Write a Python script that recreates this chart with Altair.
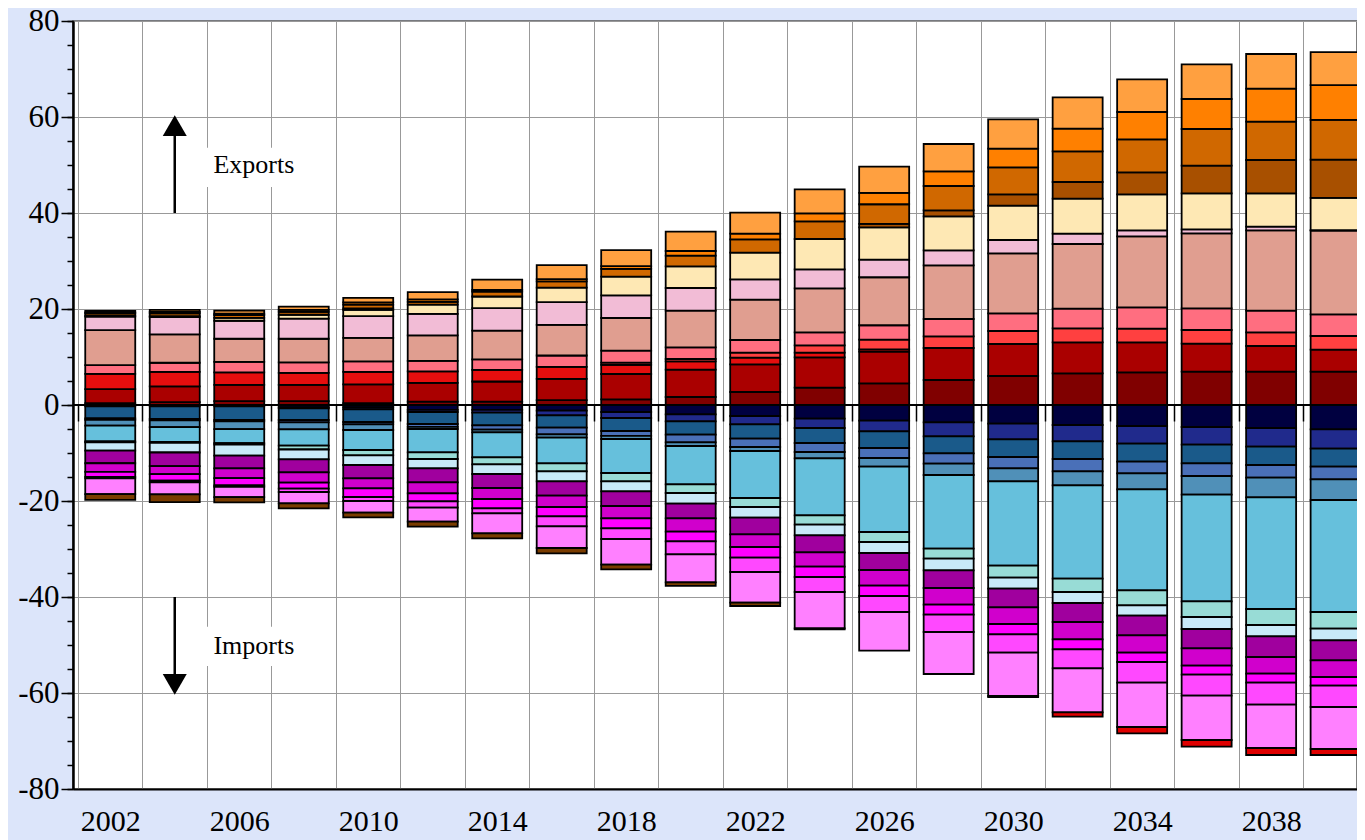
import altair as alt
import pandas as pd

years = list(range(2002, 2041, 2))

# ---- Exports (positive), stacked from zero upward ----
exp_maroon = [0.4, 0.6, 0.8, 0.8, 0.4, 0.7, 0.7, 1.0, 1.18, 1.67, 2.71, 3.61, 4.51, 5.21, 6.04, 6.6, 6.8, 6.94, 6.94, 6.94]
exp_darkred = [2.9, 3.3, 3.4, 3.4, 3.9, 3.9, 4.2, 4.45, 5.28, 5.69, 5.76, 6.32, 6.6, 6.67, 6.67, 6.46, 6.26, 5.84, 5.35, 4.59]
exp_red = [3.2, 3.0, 2.6, 2.5, 2.6, 2.4, 2.4, 2.5, 1.9, 1.72, 1.39, 0.97, 0.49, 0, 0, 0, 0, 0, 0, 0]
exp_lightred = [0, 0, 0, 0, 0, 0, 0, 0, 0.46, 0.5, 1.04, 1.53, 2.01, 2.42, 2.71, 2.91, 2.84, 2.85, 2.85, 2.85]
exp_pinkred = [1.8, 1.9, 2.2, 2.2, 2.2, 2.2, 2.2, 2.36, 2.5, 2.43, 2.64, 2.71, 3.0, 3.62, 3.68, 4.1, 4.45, 4.51, 4.51, 4.51]
exp_salmon = [7.3, 5.9, 4.8, 4.9, 4.9, 5.3, 6.0, 6.39, 6.8, 7.64, 8.4, 9.17, 10.0, 11.18, 12.5, 13.47, 14.79, 15.62, 16.74, 17.43]
exp_pink = [2.8, 3.6, 3.75, 4.2, 4.5, 4.5, 4.7, 4.72, 4.72, 4.73, 4.24, 3.95, 3.68, 3.12, 2.78, 2.15, 1.25, 0.84, 0.76, 0.1]
exp_yellow = [0.2, 0.2, 0.6, 0.8, 1.3, 1.9, 2.4, 3.05, 3.9, 4.51, 5.56, 6.32, 6.73, 7.09, 7.15, 7.3, 7.5, 7.5, 6.95, 6.74]
exp_brown = [0, 0, 0, 0, 0.3, 0, 0, 0, 0, 0, 0, 0, 0.7, 1.25, 2.36, 3.47, 4.58, 5.76, 6.94, 7.98]
exp_darkorange = [0.5, 0.6, 0.6, 0.6, 0.8, 0.6, 1.0, 1.3, 1.6, 2.22, 2.77, 3.68, 4.1, 5.07, 5.62, 6.39, 6.88, 7.64, 7.99, 8.27]
exp_orange = [0.2, 0.3, 0.3, 0.4, 0.5, 0.5, 0.4, 0.44, 0.6, 0.97, 1.18, 1.67, 2.36, 3.05, 3.89, 4.72, 5.69, 6.25, 6.87, 7.22]
exp_lightorange = [0.3, 0.4, 0.6, 0.7, 0.9, 1.5, 2.1, 2.92, 3.33, 4.03, 4.38, 5.0, 5.48, 5.7, 6.11, 6.53, 6.81, 7.22, 7.23, 6.87]

# ---- Imports (magnitudes, drawn negative), stacked from zero downward ----
imp_navy = [0.3, 0.3, 0.3, 0.5, 0.5, 1.0, 1.0, 1.18, 1.46, 1.94, 2.29, 2.85, 3.26, 3.61, 3.89, 4.17, 4.38, 4.58, 4.79, 5.07]
imp_darkblue = [0, 0, 0, 0.2, 0.4, 0.46, 0.6, 0.97, 1.25, 1.46, 1.74, 1.94, 2.23, 2.92, 3.26, 3.4, 3.68, 3.68, 3.89, 4.03]
imp_steel = [2.5, 2.6, 2.8, 2.43, 2.64, 2.5, 2.64, 2.57, 2.71, 2.78, 2.98, 3.13, 3.47, 3.54, 3.68, 3.68, 3.75, 3.89, 3.82, 3.75]
imp_midblue = [0.3, 0.3, 0.3, 0.5, 0.5, 0.6, 0.9, 1.39, 1.0, 1.6, 1.74, 1.87, 2.08, 2.15, 2.36, 2.57, 2.43, 2.64, 2.64, 2.64]
imp_greyblue = [1.2, 1.4, 1.64, 1.44, 1.17, 0.44, 0.55, 0.7, 0.66, 0.76, 0.83, 1.32, 1.81, 2.36, 2.71, 2.92, 3.33, 3.89, 4.1, 4.3]
imp_lightblue = [3.3, 3.1, 2.92, 3.4, 4.17, 4.86, 5.21, 5.34, 7.09, 7.99, 9.8, 11.88, 13.61, 15.35, 17.57, 19.44, 21.04, 22.22, 23.26, 23.34]
imp_aqua = [0.2, 0.2, 0.3, 0.8, 1.11, 1.39, 1.46, 1.67, 1.73, 1.8, 1.87, 1.94, 2.08, 2.08, 2.5, 2.78, 3.13, 3.27, 3.33, 3.47]
imp_palecyan = [1.7, 2.0, 2.3, 2.05, 2.01, 1.94, 2.02, 2.08, 2.09, 2.23, 2.22, 2.22, 2.29, 2.43, 2.29, 2.29, 2.15, 2.5, 2.36, 2.43]
imp_purple = [2.64, 2.85, 2.66, 2.71, 2.78, 2.92, 2.91, 2.99, 3.05, 3.05, 3.47, 3.54, 3.55, 3.69, 3.89, 3.96, 4.1, 4.02, 4.31, 4.16]
imp_magenta = [1.8, 1.67, 2.02, 2.15, 2.08, 2.29, 2.29, 2.36, 2.57, 2.78, 2.64, 2.99, 3.26, 3.47, 3.48, 3.61, 3.61, 3.62, 3.47, 3.48]
imp_fuchsia = [1.04, 1.32, 1.52, 1.25, 1.81, 1.67, 1.95, 1.94, 2.08, 2.01, 2.23, 2.15, 2.15, 2.08, 2.15, 2.08, 1.94, 1.87, 1.88, 1.8]
imp_pinkmag = [0.3, 0.4, 0.3, 0.7, 0.83, 1.32, 1.04, 2.09, 2.23, 2.71, 2.98, 3.13, 3.34, 3.61, 3.82, 3.96, 4.31, 4.38, 4.58, 4.45]
imp_lightmag = [3.3, 2.5, 2.14, 2.36, 2.43, 2.91, 4.17, 4.51, 5.34, 5.83, 6.39, 7.57, 8.05, 8.75, 9.03, 9.17, 9.23, 9.23, 9.03, 8.75]
imp_brown = [1.2, 1.6, 1.1, 1.04, 0.97, 1.05, 1.04, 1.11, 0.98, 0.76, 0.7, 0.2, 0, 0, 0, 0, 0, 0, 0, 0]
imp_red = [0, 0, 0, 0, 0, 0, 0, 0, 0, 0, 0, 0, 0, 0, 0.25, 0.9, 1.32, 1.39, 1.46, 1.25]

export_series = [
    ("E01", exp_maroon, "#800000"),
    ("E02", exp_darkred, "#aa0000"),
    ("E03", exp_red, "#e60e0e"),
    ("E04", exp_lightred, "#ff4040"),
    ("E05", exp_pinkred, "#ff6e80"),
    ("E06", exp_salmon, "#e09e90"),
    ("E07", exp_pink, "#f2bcd6"),
    ("E08", exp_yellow, "#fee8b4"),
    ("E09", exp_brown, "#a85000"),
    ("E10", exp_darkorange, "#d06800"),
    ("E11", exp_orange, "#ff8000"),
    ("E12", exp_lightorange, "#ffa040"),
]
import_series = [
    ("I01", imp_navy, "#000040"),
    ("I02", imp_darkblue, "#202a8c"),
    ("I03", imp_steel, "#1a5a8a"),
    ("I04", imp_midblue, "#4a70b8"),
    ("I05", imp_greyblue, "#5090b8"),
    ("I06", imp_lightblue, "#66c0dc"),
    ("I07", imp_aqua, "#98dcd6"),
    ("I08", imp_palecyan, "#c8eaf8"),
    ("I09", imp_purple, "#a0009e"),
    ("I10", imp_magenta, "#d000cc"),
    ("I11", imp_fuchsia, "#ff00ff"),
    ("I12", imp_pinkmag, "#ff48ff"),
    ("I13", imp_lightmag, "#ff80ff"),
    ("I14", imp_brown, "#7a3c00"),
    ("I15", imp_red, "#e00000"),
]

rows = []
for rank, (name, vals, _) in enumerate(export_series, start=1):
    for yr, v in zip(years, vals):
        rows.append({"year": yr, "series": name, "value": v, "rank": rank})
for rank, (name, vals, _) in enumerate(import_series, start=1):
    for yr, v in zip(years, vals):
        rows.append({"year": yr, "series": name, "value": -v, "rank": rank})
df = pd.DataFrame(rows)

names = [s[0] for s in export_series] + [s[0] for s in import_series]
colors = [s[2] for s in export_series] + [s[2] for s in import_series]

# annotations
ann_text = ["Exports", "Imports"]
ann_x = [2005.2, 2005.2]
ann_y = [50.0, -50.2]
box_x1 = [2004.9, 2004.9]
box_x2 = [2008.3, 2008.3]
box_y1 = [45.4, -46.2]
box_y2 = [53.6, -54.4]
arrow_x = [2004, 2004]
arrow_from = [40.0, -40.0]
arrow_to = [56.5, -56.5]
head_y = [58.2, -58.2]
head_shape = ["triangle-up", "triangle-down"]

ann = pd.DataFrame({"text": ann_text, "x": ann_x, "y": ann_y,
                    "bx1": box_x1, "bx2": box_x2, "by1": box_y1, "by2": box_y2,
                    "ax": arrow_x, "a0": arrow_from, "a1": arrow_to,
                    "hy": head_y, "shape": head_shape})

label_years = list(range(2002, 2041, 4))
grid_years = list(range(2001, 2041, 2))
major_y = list(range(-80, 81, 20))
minor_y = list(range(-80, 81, 5))

FONT = "Liberation Serif"
PLOT_H = 768
xscale = alt.Scale(domain=[2001, 2040.508], nice=False, zero=False)
yscale = alt.Scale(domain=[-80, 80], nice=False, zero=False)

# main axes: labels, y grid, domains
xaxis_main = alt.Axis(
    values=label_years, format="d", orient="bottom",
    ticks=False, labelPadding=17,
    labelFont=FONT, labelFontSize=30, labelColor="black",
    labelOverlap=False, labelFlush=False, labelBound=False,
    grid=False, domainColor="black", domainWidth=2, title=None,
)
yaxis_main = alt.Axis(
    values=major_y, labelExpr="'' + datum.value", orient="left",
    ticks=True, tickSize=12, tickColor="black", tickWidth=1.5, labelPadding=2,
    labelFont=FONT, labelFontSize=31, labelColor="black",
    labelOverlap=False, labelFlush=False,
    grid=True, gridColor="#999999", gridWidth=1,
    domainColor="black", domainWidth=2.5, title=None,
)
# secondary axes: x grid between bars, minor y ticks
xaxis_grid = alt.Axis(
    values=grid_years, orient="bottom", labels=False, ticks=False, domain=False,
    grid=True, gridColor="#999999", gridWidth=1, title=None,
)
yaxis_minor = alt.Axis(
    values=minor_y, orient="left", labels=False, ticks=True, tickSize=6,
    tickColor="black", tickWidth=1.5, domain=False, grid=False, title=None,
)
# short ticks hanging below the zero line between bars
xaxis_zero_ticks = alt.Axis(
    values=grid_years, orient="bottom", offset=-PLOT_H / 2, labels=False,
    ticks=True, tickSize=16, tickColor="black", tickWidth=1.5,
    domain=False, grid=False, title=None,
)

bars = alt.Chart(df).transform_filter("datum.value != 0").mark_bar(
    size=50, stroke="black", strokeWidth=1.8, clip=True
).encode(
    x=alt.X("year:Q", scale=xscale, axis=xaxis_main),
    y=alt.Y("value:Q", scale=yscale, axis=yaxis_main, stack="zero"),
    color=alt.Color("series:N", scale=alt.Scale(domain=names, range=colors), legend=None),
    order=alt.Order("rank:Q", sort="ascending"),
)

boxes = alt.Chart(ann).mark_rect(fill="white").encode(
    x=alt.X("bx1:Q", scale=xscale, axis=xaxis_grid), x2="bx2:Q",
    y=alt.Y("by1:Q", scale=yscale, axis=yaxis_minor), y2="by2:Q",
)

zero = alt.Chart(pd.DataFrame({"y": [0]})).mark_rule(color="black", strokeWidth=2).encode(
    y=alt.Y("y:Q", scale=yscale, axis=None)
)

shafts = alt.Chart(ann).mark_rule(color="black", strokeWidth=2.5).encode(
    x=alt.X("ax:Q", scale=xscale, axis=xaxis_zero_ticks),
    y=alt.Y("a0:Q", scale=yscale, axis=None), y2="a1:Q",
)

heads = alt.Chart(ann).mark_point(filled=True, color="black", opacity=1, size=576).encode(
    x=alt.X("ax:Q", scale=xscale, axis=None),
    y=alt.Y("hy:Q", scale=yscale, axis=None),
    shape=alt.Shape("shape:N", scale=None, legend=None),
)

labels = alt.Chart(ann).mark_text(
    align="left", baseline="middle", font=FONT, fontSize=26, color="black"
).encode(
    x=alt.X("x:Q", scale=xscale, axis=None),
    y=alt.Y("y:Q", scale=yscale, axis=None),
    text="text:N",
)

chart = alt.layer(boxes, bars, zero, shafts, heads, labels).resolve_axis(
    x="independent", y="independent"
).properties(
    width=1284, height=PLOT_H,
    autosize=alt.AutoSizeParams(type="none"),
    padding={"left": 65, "top": 13, "right": 0, "bottom": 60},
    background="#dce5fa",
).configure_view(stroke="#555555", strokeWidth=1.5, fill="white")

chart.save("out.html", embed_options={"renderer": "svg", "actions": False})
